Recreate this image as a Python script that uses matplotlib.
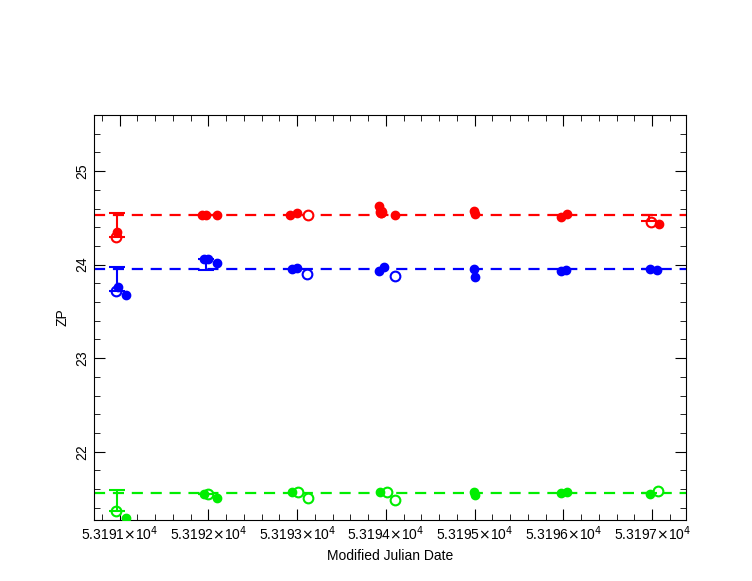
import numpy as np
import matplotlib.pyplot as plt
from matplotlib.ticker import MultipleLocator, FuncFormatter

plt.rcParams['font.family'] = ['Liberation Sans', 'DejaVu Sans']

# zero points per band (red, blue, green); filled = good, open = rejected
red_mean, blue_mean, green_mean = 24.53, 23.95, 21.56

red_x = [53190.97, 53191.93, 53191.97, 53192.10, 53192.92, 53193.00, 53193.92, 53193.94,
         53194.10, 53194.99, 53195.00, 53195.97, 53196.04, 53197.08]
red_y = [24.35, 24.53, 24.53, 24.53, 24.53, 24.55, 24.63, 24.55, 24.53, 24.57, 24.54, 24.51, 24.54, 24.44]
red_ox = [53190.96, 53193.12, 53193.95, 53196.99]
red_oy = [24.30, 24.53, 24.56, 24.46]

blue_x = [53190.98, 53191.07, 53191.95, 53192.00, 53192.10, 53192.94, 53193.00, 53193.92,
          53193.98, 53194.99, 53195.00, 53195.97, 53196.03, 53196.98, 53197.05]
blue_y = [23.76, 23.68, 24.06, 24.06, 24.02, 23.95, 23.96, 23.93, 23.98, 23.95, 23.87, 23.93, 23.94, 23.95, 23.94]
blue_ox = [53190.96, 53193.11, 53194.10]
blue_oy = [23.72, 23.90, 23.88]

green_x = [53191.07, 53191.95, 53192.10, 53192.94, 53193.93, 53194.99, 53195.00, 53195.97, 53196.04, 53196.98]
green_y = [21.29, 21.55, 21.51, 21.57, 21.57, 21.57, 21.54, 21.56, 21.57, 21.55]
green_ox = [53190.96, 53192.00, 53193.01, 53193.12, 53194.01, 53194.10, 53197.07]
green_oy = [21.37, 21.55, 21.57, 21.51, 21.57, 21.48, 21.58]

# points with one-sided error bars
err_x = [53190.97, 53191.97, 53196.97]
red_err_y, red_err = [24.30, 24.53, 24.47], [0.25, 0.0, 0.06]
blue_err_y, blue_err = [23.72, 24.06, 23.95], [0.25, 0.12, 0.0]
green_err_y, green_err = [21.37, 21.55, 21.56], [0.22, 0.0, 0.0]

fig, ax = plt.subplots(figsize=(7.52, 5.81), dpi=100)
fig.subplots_adjust(left=0.125, right=0.912, top=0.802, bottom=0.105)

for col, mean, fx, fy, ox, oy, ey, ee in [
        ('#ff0000', red_mean, red_x, red_y, red_ox, red_oy, red_err_y, red_err),
        ('#0000ff', blue_mean, blue_x, blue_y, blue_ox, blue_oy, blue_err_y, blue_err),
        ('#00ee00', green_mean, green_x, green_y, green_ox, green_oy, green_err_y, green_err)]:
    ax.axhline(mean, color=col, ls=(0, (5, 3.5)), lw=1.6, zorder=1)
    ax.plot(ox, oy, 'o', mfc='white', mec=col, mew=1.5, ms=7, zorder=2)
    ax.plot(fx, fy, 'o', color=col, ms=6, zorder=3)
    up = [e if y < mean else 0 for y, e in zip(ey, ee)]
    dn = [e if y >= mean else 0 for y, e in zip(ey, ee)]
    ax.errorbar(err_x, ey, yerr=[dn, up], fmt='none', ecolor=col, elinewidth=1.5,
                capsize=6, capthick=1.5, zorder=2)

ax.set_xlim(53190.71, 53197.38)
ax.set_ylim(21.27, 25.6)
ax.xaxis.set_major_locator(MultipleLocator(1))
ax.xaxis.set_minor_locator(MultipleLocator(0.2))
ax.yaxis.set_major_locator(MultipleLocator(1))
ax.yaxis.set_minor_locator(MultipleLocator(0.2))
ax.xaxis.set_major_formatter(FuncFormatter(lambda v, p: r'%.4f$\times$10$^4$' % (v / 1e4)))
ax.tick_params(which='both', direction='in', top=True, right=True, labelsize=10)
ax.tick_params(which='major', length=8)
ax.tick_params(which='minor', length=4)
for lab in ax.get_yticklabels():
    lab.set_rotation(90)
    lab.set_va('center')
ax.set_ylabel('ZP', fontsize=10, labelpad=4)
ax.set_xlabel('Modified Julian Date', fontsize=10, labelpad=4)

fig.savefig('out.png', dpi=100)
